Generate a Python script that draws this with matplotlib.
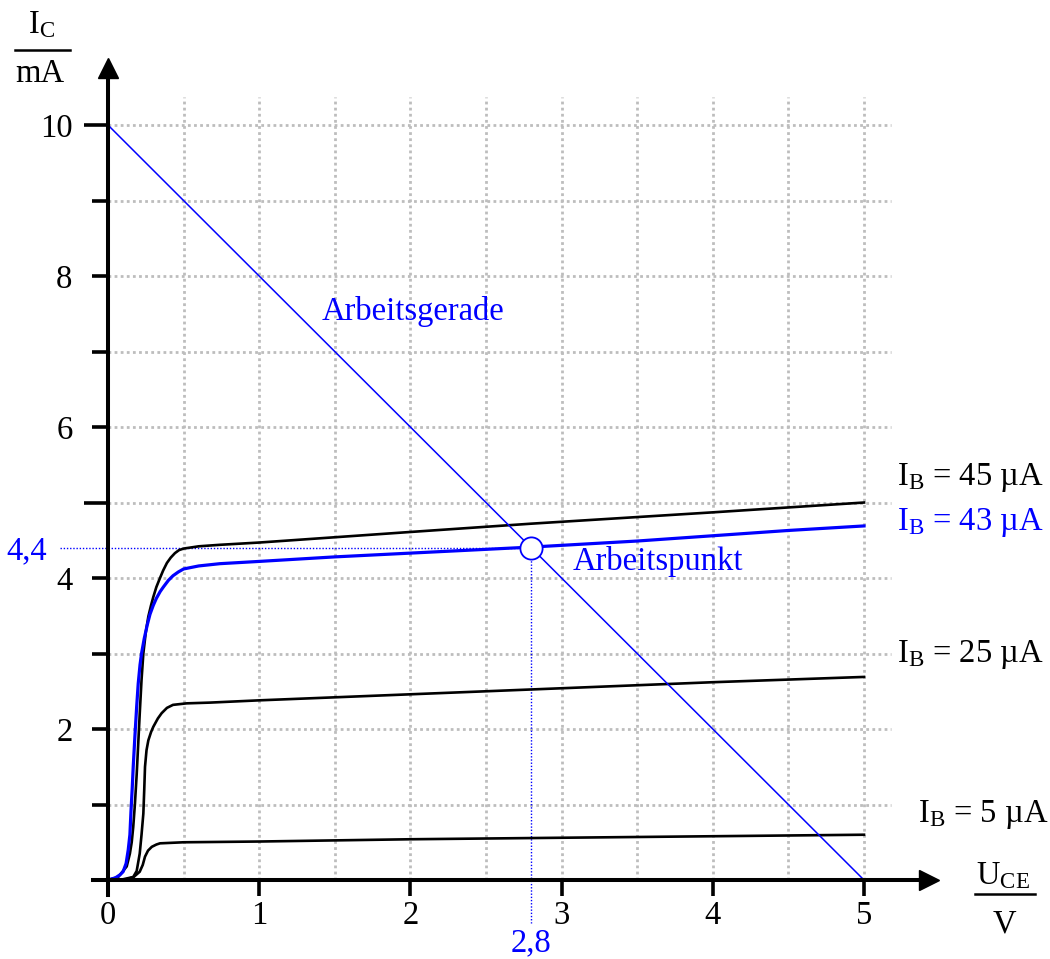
import numpy as np
import matplotlib
matplotlib.use("Agg")
import matplotlib.pyplot as plt

plt.rcParams["font.family"] = ["Liberation Serif", "DejaVu Serif"]
plt.rcParams["mathtext.fontset"] = "custom"
plt.rcParams["mathtext.rm"] = "Liberation Serif"
plt.rcParams["mathtext.it"] = "Liberation Serif:italic"

BLUE = "#0000ff"
GRID = "#bdbdbd"
FS = 23.5

# output characteristics I_C / mA over U_CE / V
uce_45 = [0, 0.068, 0.124, 0.145, 0.157, 0.167, 0.178, 0.19, 0.2, 0.21, 0.222,
          0.234, 0.25, 0.267, 0.285, 0.30, 0.32, 0.344, 0.365, 0.39, 0.415,
          0.443, 0.47, 0.5, 0.6, 0.74, 1.0, 2.0, 2.8, 4.0, 5.0]
ic_45 = [0, 0.04, 0.18, 0.35, 0.5, 0.7, 1.0, 1.4, 1.8, 2.2, 2.65,
         3.0, 3.28, 3.49, 3.64, 3.75, 3.88, 4.0, 4.1, 4.2, 4.27,
         4.33, 4.37, 4.39, 4.42, 4.44, 4.47, 4.61, 4.72, 4.87, 5.0]

uce_43 = [0, 0.05, 0.08, 0.10, 0.12, 0.134, 0.145, 0.152, 0.16, 0.167, 0.178,
          0.19, 0.2, 0.212, 0.222, 0.24, 0.26, 0.278, 0.30, 0.32, 0.345,
          0.366, 0.40, 0.43, 0.465, 0.5, 0.6, 0.74, 1.0, 1.5, 2.0, 2.8, 3.5,
          4.0, 4.5, 5.0]
ic_43 = [0, 0.03, 0.07, 0.11, 0.22, 0.40, 0.6, 0.9, 1.2, 1.5, 1.9,
         2.3, 2.6, 2.85, 3.0, 3.2, 3.38, 3.52, 3.64, 3.73, 3.82,
         3.88, 3.97, 4.03, 4.08, 4.12, 4.16, 4.19, 4.22, 4.28, 4.33, 4.41, 4.49,
         4.56, 4.63, 4.69]

uce_25 = [0, 0.10, 0.167, 0.19, 0.21, 0.222, 0.234, 0.24, 0.245, 0.255, 0.267,
          0.285, 0.30, 0.33, 0.355, 0.39, 0.43, 0.52, 0.675, 1.0, 2.0, 3.0,
          4.0, 5.0]
ic_25 = [0, 0.01, 0.04, 0.12, 0.35, 0.6, 0.88, 1.2, 1.5, 1.72, 1.85,
         1.96, 2.03, 2.14, 2.21, 2.28, 2.32, 2.34, 2.35, 2.38, 2.46, 2.54,
         2.62, 2.69]

uce_5 = [0, 0.124, 0.17, 0.21, 0.23, 0.245, 0.265, 0.29, 0.32, 0.344, 0.5,
         1.0, 2.0, 3.0, 4.0, 5.0]
ic_5 = [0, 0.01, 0.04, 0.11, 0.2, 0.31, 0.39, 0.44, 0.47, 0.486, 0.50,
        0.51, 0.54, 0.56, 0.58, 0.60]

# load line and operating point
uce_load = [0, 5]
ic_load = [10, 0]
uce_q, ic_q = 2.8, 4.4

xticks = [0, 1, 2, 3, 4, 5]
yticks = [1, 2, 3, 4, 5, 6, 7, 8, 9, 10]
ylabels = ["", "2", "", "4", "", "6", "", "8", "", "10"]

fig = plt.figure(figsize=(10.5, 9.59), dpi=100)
ax = fig.add_axes([0, 0, 1, 1])
ax.set_xlim(-0.714, 6.23)
ax.set_ylim(-1.046, 11.656)
ax.patch.set_alpha(0)

# dotted grid
ax.vlines(np.arange(0.5, 5.01, 0.5), 0, 10.37, colors=GRID, lw=2.0,
          linestyles=(0, (1, 1.2)), zorder=1)
ax.hlines(np.arange(1, 10.01, 1), 0, 5.18, colors=GRID, lw=2.0,
          linestyles=(0, (1, 1.2)), zorder=1)

# axes with arrows
for side in ("top", "right"):
    ax.spines[side].set_visible(False)
ax.spines["left"].set_position(("data", 0))
ax.spines["bottom"].set_position(("data", 0))
ax.spines["left"].set_bounds(-0.2, 10.62)
ax.spines["bottom"].set_bounds(-0.1, 5.4)
for side in ("left", "bottom"):
    ax.spines[side].set_linewidth(2.9)
    ax.spines[side].set_zorder(4)
ax.plot(5.43, 0, marker=">", ms=15, color="k", clip_on=False, zorder=4)
ax.plot(0, 10.75, marker="^", ms=15, color="k", clip_on=False, zorder=4)

ax.set_xticks(xticks)
ax.set_yticks(yticks)
ax.set_yticklabels(ylabels)
ax.tick_params(axis="x", direction="out", length=11.5, width=2.6, pad=3,
               labelsize=FS)
ax.tick_params(axis="y", direction="out", length=11.5, width=2.6, pad=14,
               labelsize=FS)
for t in ax.yaxis.get_major_ticks():
    if t.get_loc() in (5, 10):
        t.tick1line.set_markersize(17.3)

# characteristic curves
ax.plot(uce_45, ic_45, color="k", lw=1.9, zorder=3, solid_joinstyle="round")
ax.plot(uce_25, ic_25, color="k", lw=1.9, zorder=3, solid_joinstyle="round")
ax.plot(uce_5, ic_5, color="k", lw=1.9, zorder=3, solid_joinstyle="round")
ax.plot(uce_43, ic_43, color=BLUE, lw=2.3, zorder=3, solid_joinstyle="round")

# load line and operating point
ax.plot(uce_load, ic_load, color=BLUE, lw=1.1, zorder=3)
ax.plot([-0.317, uce_q], [ic_q, ic_q], color=BLUE, lw=1.0,
        ls=(0, (1, 1.3)), zorder=2, clip_on=False)
ax.plot([uce_q, uce_q], [ic_q, -0.57], color=BLUE, lw=1.0,
        ls=(0, (1, 1.3)), zorder=2, clip_on=False)
ax.plot(uce_q, ic_q, marker="o", ms=16, mfc="white", mec=BLUE, mew=1.3,
        zorder=5)

ax.text(-0.40, ic_q, "4,4", color=BLUE, fontsize=FS, ha="right",
        va="center_baseline")
ax.text(uce_q, -0.95, "2,8", color=BLUE, fontsize=FS, ha="center",
        va="baseline")
ax.text(1.41, 7.42, "Arbeitsgerade", color=BLUE, fontsize=FS, va="baseline")
ax.text(3.07, 4.11, "Arbeitspunkt", color=BLUE, fontsize=FS, va="baseline")

# base current labels
ax.text(5.22, 5.23, r"I$_\mathrm{B}$ = 45 µA", fontsize=FS, va="baseline")
ax.text(5.22, 4.64, r"I$_\mathrm{B}$ = 43 µA", color=BLUE, fontsize=FS,
        va="baseline")
ax.text(5.22, 2.89, r"I$_\mathrm{B}$ = 25 µA", fontsize=FS, va="baseline")
ax.text(5.36, 0.77, r"I$_\mathrm{B}$ = 5 µA", fontsize=FS, va="baseline")

# axis labels as fractions
ax.text(-0.437, 11.22, r"I$_\mathrm{C}$", fontsize=FS, ha="center",
        va="baseline")
ax.plot([-0.615, -0.251], [10.99, 10.99], color="k", lw=1.8, clip_on=False)
ax.text(-0.45, 10.57, "mA", fontsize=FS, ha="center", va="baseline")

ax.text(5.92, -0.05, r"U$_\mathrm{CE}$", fontsize=FS, ha="center",
        va="baseline")
ax.plot([5.734, 6.131], [-0.18, -0.18], color="k", lw=1.8, clip_on=False)
ax.text(5.93, -0.69, "V", fontsize=FS, ha="center", va="baseline")

fig.savefig("out.png", dpi=100)
